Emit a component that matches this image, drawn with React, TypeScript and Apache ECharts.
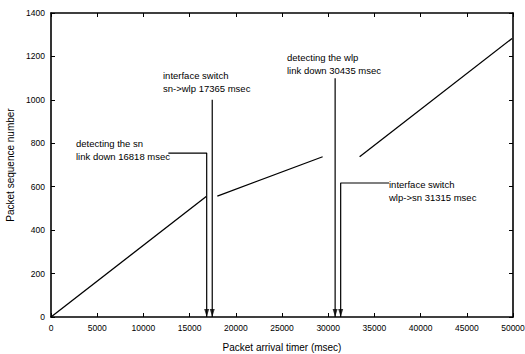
import React, { useEffect, useRef } from "react";
import * as echarts from "echarts";

// Data segments (x: msec, y: packet sequence number)
const seg1: number[][] = [[0, 0], [16800, 555]];
const seg2: number[][] = [[18000, 557], [29400, 738]];
const seg3: number[][] = [[33400, 738], [49900, 1283]];

// Event markers (x position) and leader lines
const eventX = [16850, 17450, 30750, 31350];
const leader1: number[][] = [[12700, 755], [16850, 755], [16850, 0]];
const leader2: number[][] = [[17450, 1000], [17450, 0]];
const leader3: number[][] = [[30750, 1100], [30750, 0]];
const leader4: number[][] = [[36600, 617], [31350, 617], [31350, 0]];

const annotations = [
  ["detecting the sn", "link down 16818 msec"],
  ["interface switch", "sn->wlp 17365 msec"],
  ["detecting the wlp", "link down 30435 msec"],
  ["interface switch", "wlp->sn 31315 msec"],
];
const annotationPos = [
  [76, 143],
  [163, 75],
  [287, 57],
  [389, 184],
];

const FONT = '"Liberation Sans", Arial, sans-serif';

export default function App() {
  const ref = useRef<HTMLDivElement>(null);
  useEffect(() => {
    if (!ref.current) return;
    const chart = echarts.init(ref.current, undefined, { renderer: "svg" });
    const mkLine = (data: number[][], width = 1.3) => ({
      type: "line",
      data,
      symbol: "none",
      lineStyle: { color: "#000", width },
      silent: true,
    });
    const axisLabel = {
      color: "#000",
      fontSize: 8.5,
      fontFamily: FONT,
      margin: 6,
      formatter: (v: number) => String(v),
    };
    const axisLine = { show: true, onZero: false, lineStyle: { color: "#000", width: 1.6 } };
    const axisTick = { show: true, inside: true, length: 4, lineStyle: { color: "#000" } };
    const graphics: any[] = [];
    annotations.forEach((lines, i) => {
      lines.forEach((t, j) => {
        graphics.push({
          type: "text",
          x: annotationPos[i][0],
          y: annotationPos[i][1] + j * 13,
          style: {
            text: t,
            fill: "#000",
            font: `9.5px ${FONT}`,
            textVerticalAlign: "middle",
            textAlign: "left",
          },
        });
      });
    });
    chart.setOption({
      animation: false,
      backgroundColor: "#fff",
      grid: {
        left: 51,
        right: 12,
        top: 13,
        bottom: 37,
        containLabel: false,
        outerBoundsMode: "none",
      },
      xAxis: [
        {
          type: "value",
          min: 0,
          max: 50000,
          interval: 5000,
          name: "Packet arrival timer (msec)",
          nameLocation: "middle",
          nameGap: 25,
          nameTextStyle: { color: "#000", fontSize: 10, fontFamily: FONT },
          axisLine,
          axisTick,
          axisLabel: { ...axisLabel, margin: 6 },
          splitLine: { show: false },
        },
        {
          type: "value",
          position: "top",
          min: 0,
          max: 50000,
          interval: 5000,
          axisLine,
          axisTick,
          axisLabel: { show: false },
          splitLine: { show: false },
        },
      ],
      yAxis: [
        {
          type: "value",
          min: 0,
          max: 1400,
          interval: 200,
          name: "Packet sequence number",
          nameLocation: "middle",
          nameGap: 30,
          nameTextStyle: { color: "#000", fontSize: 10, fontFamily: FONT },
          axisLine,
          axisTick,
          axisLabel,
          splitLine: { show: false },
        },
        {
          type: "value",
          position: "right",
          min: 0,
          max: 1400,
          interval: 200,
          axisLine,
          axisTick,
          axisLabel: { show: false },
          splitLine: { show: false },
        },
      ],
      series: [
        mkLine(seg1),
        mkLine(seg2),
        mkLine(seg3),
        mkLine(leader1, 1.2),
        mkLine(leader2, 1.2),
        mkLine(leader3, 1.2),
        mkLine(leader4, 1.2),
        {
          type: "scatter",
          data: eventX.map((x) => [x, 0]),
          symbol: "triangle",
          symbolRotate: 180,
          symbolSize: [5, 8],
          symbolOffset: [0, -4],
          itemStyle: { color: "#000" },
          silent: true,
          z: 5,
        },
      ],
      graphic: graphics,
    });
    return () => chart.dispose();
  }, []);
  return (
    <div
      ref={ref}
      style={{ position: "absolute", left: 0, top: 0, width: 525, height: 354 }}
    />
  );
}
